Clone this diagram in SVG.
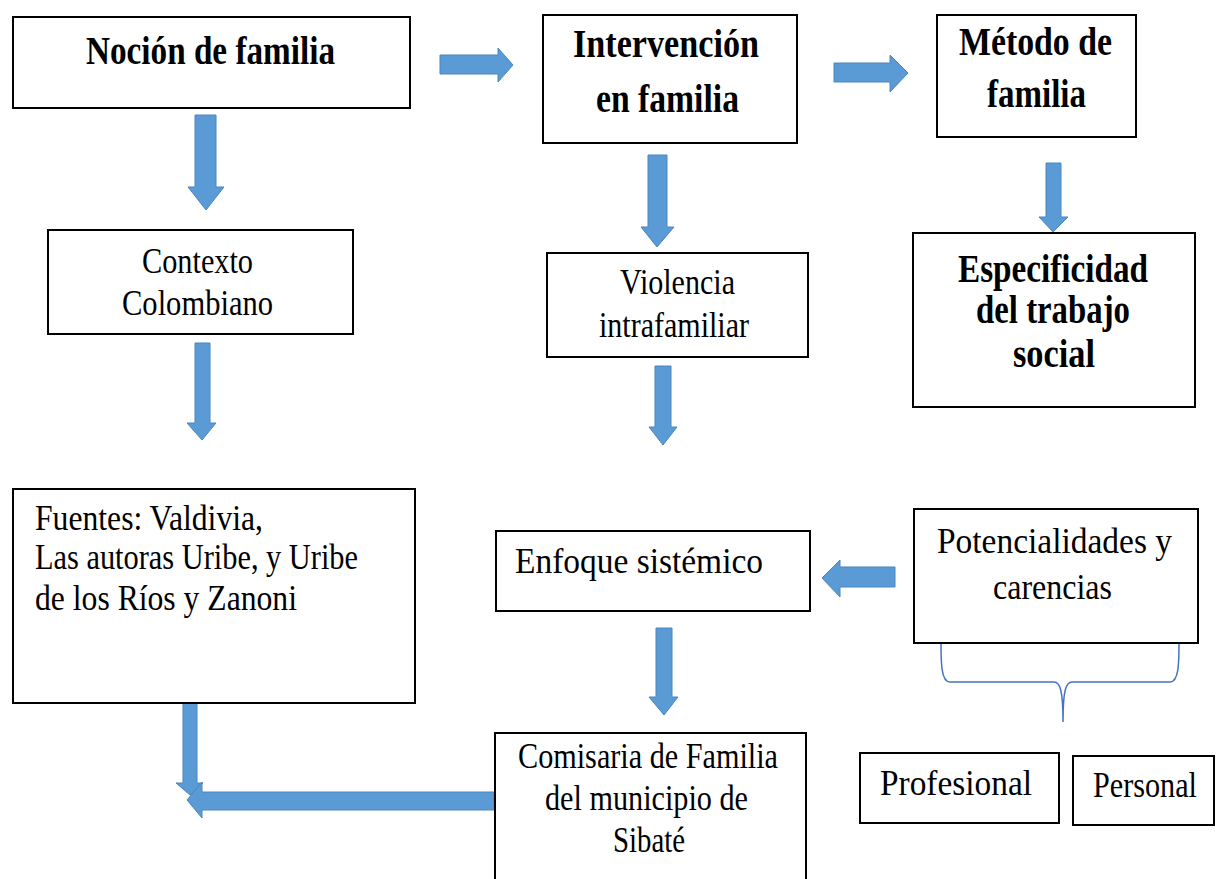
<svg xmlns="http://www.w3.org/2000/svg" width="1216" height="879" viewBox="0 0 1216 879">
<style>
.box{fill:#fff;stroke:#000;stroke-width:2}
.t{font-family:"Liberation Serif","Times New Roman",serif;font-size:35px;fill:#000}
.b{font-weight:bold;font-size:39px}
.arr{fill:#5B9BD5;stroke:#4A86C0;stroke-width:1}
.brace{fill:none;stroke:#4472C4;stroke-width:1.5}
</style>
<rect width="1216" height="879" fill="#fff"/>
<g id="connectors">
<polygon class="arr" points="440,55 498,55 498,48 513,65 498,82 498,74 440,74"/>
<polygon class="arr" points="834,63 890,63 890,55 908,73 890,92 890,82 834,82"/>
<polygon class="arr" points="195,115 216,115 216,187 224,187 206,210 188,187 195,187"/>
<polygon class="arr" points="648,155 667,155 667,227 674,227 657,247 641,227 648,227"/>
<polygon class="arr" points="1046,163 1061,163 1061,217 1068,217 1053,232 1039,217 1046,217"/>
<polygon class="arr" points="195,343 210,343 210,423 216,423 202,440 187,423 195,423"/>
<polygon class="arr" points="655,366 671,366 671,427 677,427 663,445 649,427 655,427"/>
<polygon class="arr" points="895,567 840,567 840,560 822,578 840,597 840,587 895,587"/>
<polygon class="arr" points="656,628 672,628 672,697 678,697 664,715 649,697 656,697"/>
<polygon class="arr" points="183,703 197,703 197,783 203,783 190,795 176,783 183,783"/>
<polygon class="arr" points="494,792 202,792 202,782 187,800 202,818 202,810 494,810"/>
<path class="brace" d="M941,643 C941,662 941,682 950,682 L1054,682 C1060,682 1063,690 1063,722 C1063,690 1066,682 1072,682 L1170,682 C1179,682 1179,662 1179,643"/>
</g>
<g id="nocion">
<rect class="box" x="13" y="17" width="397" height="91"/>
<text class="t b" x="86" y="64" textLength="249" lengthAdjust="spacingAndGlyphs">Noción de familia</text>
</g>
<g id="intervencion">
<rect class="box" x="543" y="15" width="254" height="128"/>
<text class="t b" x="573" y="57" textLength="186" lengthAdjust="spacingAndGlyphs">Intervención</text>
<text class="t b" x="596" y="112" textLength="143" lengthAdjust="spacingAndGlyphs">en familia</text>
</g>
<g id="metodo">
<rect class="box" x="937" y="15" width="199" height="122"/>
<text class="t b" x="959" y="55" textLength="153" lengthAdjust="spacingAndGlyphs">Método de</text>
<text class="t b" x="987" y="107" textLength="99" lengthAdjust="spacingAndGlyphs">familia</text>
</g>
<g id="contexto">
<rect class="box" x="48" y="230" width="305" height="104"/>
<text class="t" x="142" y="273" textLength="111" lengthAdjust="spacingAndGlyphs">Contexto</text>
<text class="t" x="122" y="315" textLength="151" lengthAdjust="spacingAndGlyphs">Colombiano</text>
</g>
<g id="violencia">
<rect class="box" x="547" y="253" width="261" height="104"/>
<text class="t" x="620" y="294" textLength="115" lengthAdjust="spacingAndGlyphs">Violencia</text>
<text class="t" x="599" y="337" textLength="150" lengthAdjust="spacingAndGlyphs">intrafamiliar</text>
</g>
<g id="especificidad">
<rect class="box" x="913" y="233" width="282" height="174"/>
<text class="t b" x="958" y="282" font-size="41" textLength="190" lengthAdjust="spacingAndGlyphs">Especificidad</text>
<text class="t b" x="976" y="323" font-size="41" textLength="154" lengthAdjust="spacingAndGlyphs">del trabajo</text>
<text class="t b" x="1013" y="367" font-size="41" textLength="82" lengthAdjust="spacingAndGlyphs">social</text>
</g>
<g id="fuentes">
<rect class="box" x="13" y="489" width="402" height="214"/>
<text class="t" x="35" y="530" textLength="228" lengthAdjust="spacingAndGlyphs">Fuentes: Valdivia,</text>
<text class="t" x="35" y="569" textLength="323" lengthAdjust="spacingAndGlyphs">Las autoras Uribe, y Uribe</text>
<text class="t" x="35" y="610" textLength="262" lengthAdjust="spacingAndGlyphs">de los Ríos y Zanoni</text>
</g>
<g id="enfoque">
<rect class="box" x="496" y="531" width="314" height="80"/>
<text class="t" x="515" y="573" textLength="248" lengthAdjust="spacingAndGlyphs">Enfoque sistémico</text>
</g>
<g id="potencialidades">
<rect class="box" x="914" y="509" width="284" height="134"/>
<text class="t" x="937" y="553" textLength="235" lengthAdjust="spacingAndGlyphs">Potencialidades  y</text>
<text class="t" x="993" y="599" textLength="119" lengthAdjust="spacingAndGlyphs">carencias</text>
</g>
<g id="comisaria">
<rect class="box" x="495" y="733" width="311" height="160"/>
<text class="t" x="518" y="768" textLength="260" lengthAdjust="spacingAndGlyphs">Comisaria de Familia</text>
<text class="t" x="545" y="810" textLength="203" lengthAdjust="spacingAndGlyphs">del municipio de</text>
<text class="t" x="613" y="852" textLength="72" lengthAdjust="spacingAndGlyphs">Sibaté</text>
</g>
<g id="profesional">
<rect class="box" x="860" y="753" width="199" height="70"/>
<text class="t" x="880" y="795" textLength="152" lengthAdjust="spacingAndGlyphs">Profesional</text>
</g>
<g id="personal">
<rect class="box" x="1073" y="756" width="141" height="69"/>
<text class="t" x="1093" y="797" font-size="31" textLength="104" lengthAdjust="spacingAndGlyphs">Personal</text>
</g>
</svg>
